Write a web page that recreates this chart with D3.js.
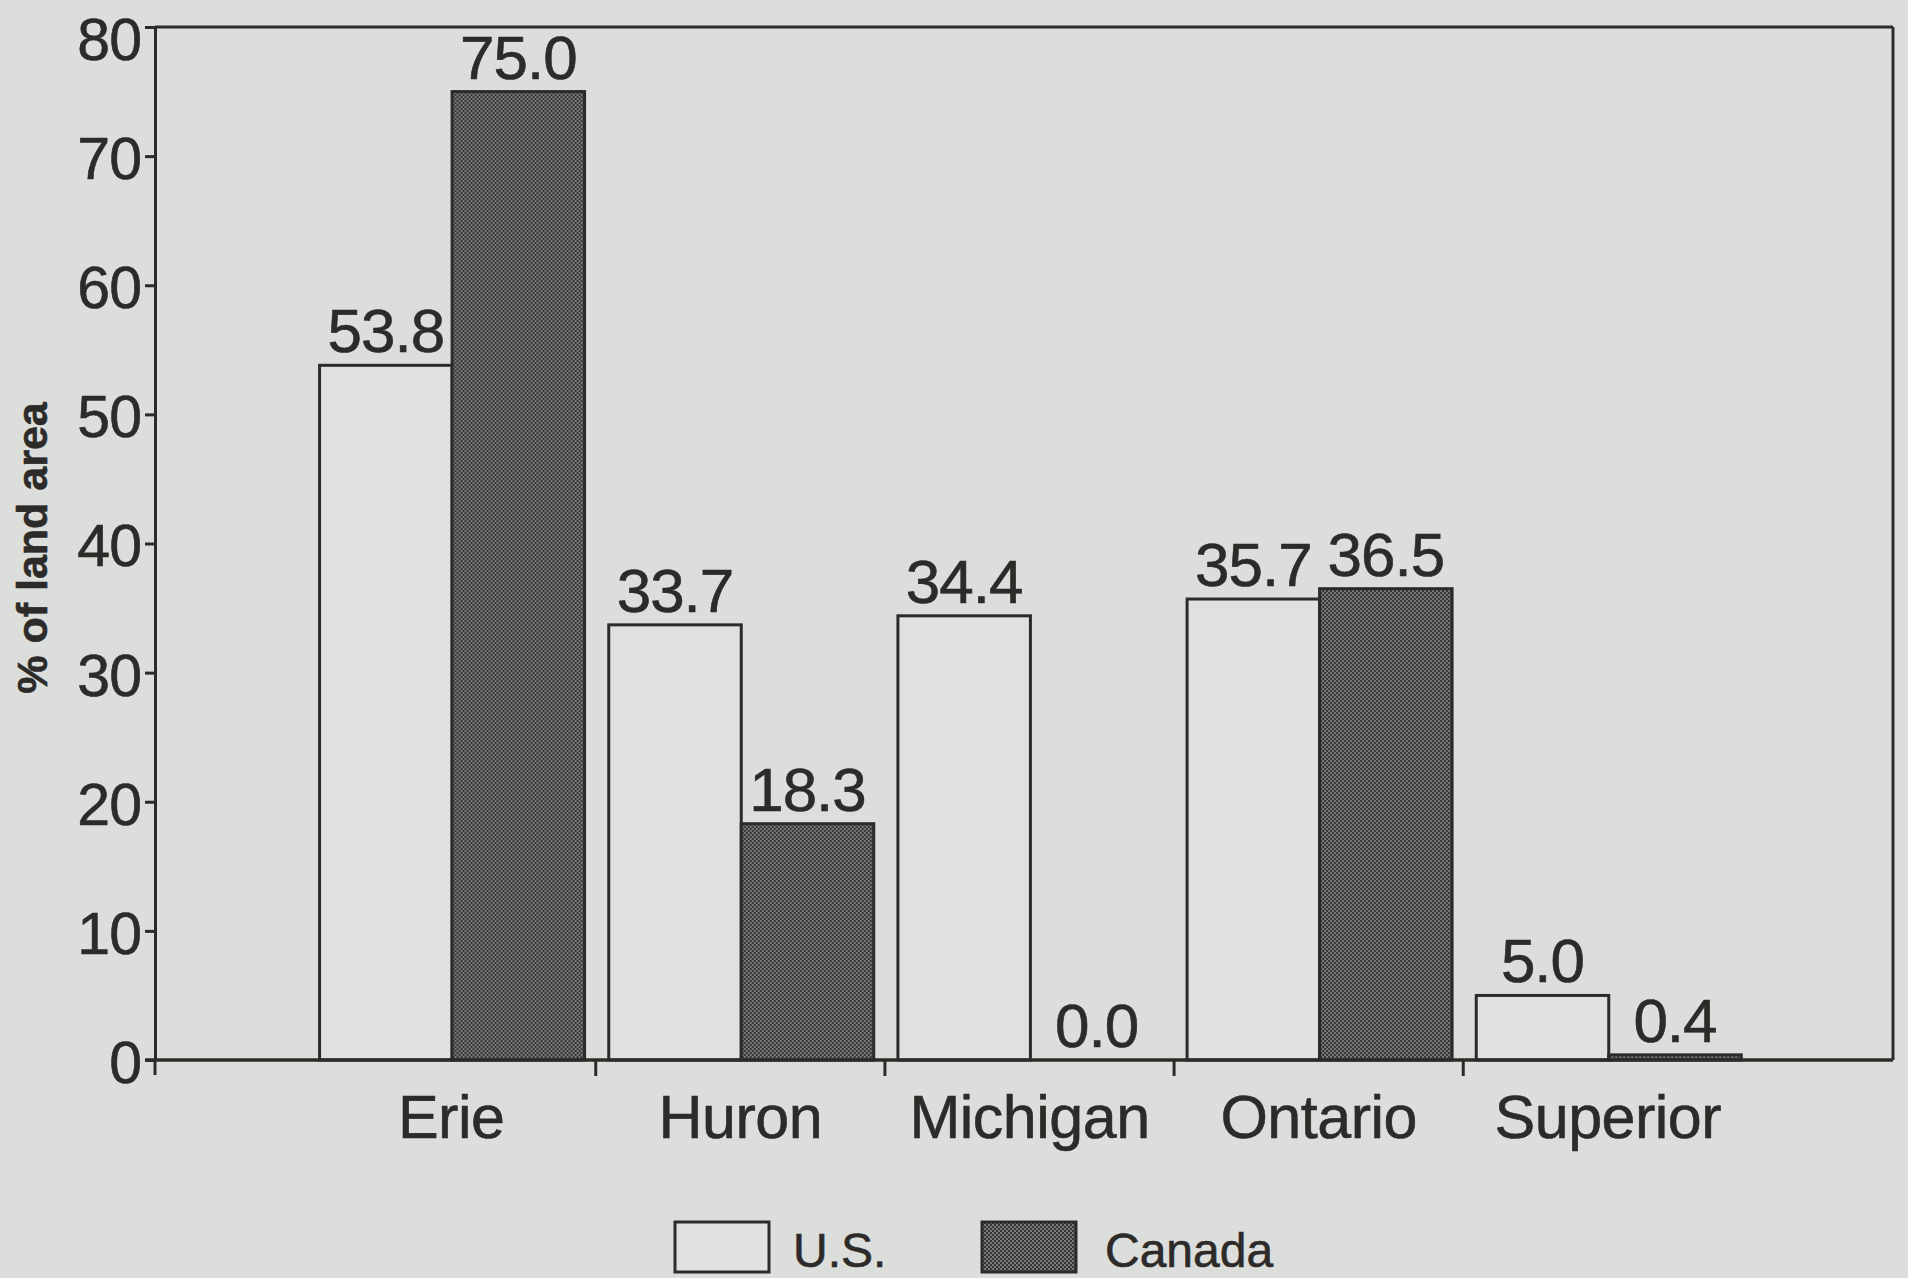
<!DOCTYPE html>
<html lang="en">
<head>
<meta charset="UTF-8">
<title>Land area by lake</title>
<script src="https://cdn.jsdelivr.net/npm/d3@7"></script>
<style>
    html, body { margin: 0; padding: 0; background: #dcdedc; }
    #chart { width: 1908px; height: 1278px; }
    text { font-family: "Liberation Sans", Arial, sans-serif; fill: #2d2b29; stroke: #2d2b29; stroke-width: 0.6; }
</style>
</head>
<body>
<div id="chart"></div>
<script>
    // data
    const lakes = ["Erie", "Huron", "Michigan", "Ontario", "Superior"];
    const usValues = [53.8, 33.7, 34.4, 35.7, 5.0];
    const canadaValues = [75.0, 18.3, 0.0, 36.5, 0.4];
    const seriesNames = ["U.S.", "Canada"];
    const yTicks = [0, 10, 20, 30, 40, 50, 60, 70, 80];

    const W = 1908, H = 1278;
    const plotLeft = 155, plotRight = 1893, plotTop = 27, plotBottom = 1060;
    const ink = "#2d2b29";

    const svg = d3.select("#chart").append("svg")
        .attr("width", W).attr("height", H)
        .attr("viewBox", [0, 0, W, H]);

    // dotted screen used for the Canada bars
    const defs = svg.append("defs");
    const pat = defs.append("pattern")
        .attr("id", "screen")
        .attr("patternUnits", "userSpaceOnUse")
        .attr("width", 4).attr("height", 4);
    pat.append("rect").attr("width", 4).attr("height", 4).attr("fill", "#363636");
    pat.append("circle").attr("cx", 1).attr("cy", 1).attr("r", 0.9).attr("fill", "#9a9a9a");
    pat.append("circle").attr("cx", 3).attr("cy", 3).attr("r", 0.9).attr("fill", "#9a9a9a");

    const y = d3.scaleLinear().domain([0, 80]).range([plotBottom, plotTop]);
    const x = d3.scaleBand().domain(lakes).range([162, 1897]).paddingInner(0).paddingOuter(0.5);
    const x1 = d3.scaleBand().domain(seriesNames).range([13, 278]).padding(0);

    const rows = lakes.map((lake, i) => ({
        lake: lake,
        values: [
            {key: "U.S.", value: usValues[i]},
            {key: "Canada", value: canadaValues[i]}
        ]
    }));

    const fillFor = k => k === "U.S." ? "#dfe1df" : "url(#screen)";

    // frame: top and right
    svg.append("line").attr("x1", plotLeft).attr("x2", plotRight).attr("y1", plotTop).attr("y2", plotTop)
        .attr("stroke", ink).attr("stroke-width", 3);
    svg.append("line").attr("x1", plotRight).attr("x2", plotRight).attr("y1", plotTop).attr("y2", plotBottom)
        .attr("stroke", ink).attr("stroke-width", 3);

    // bars
    const groups = svg.selectAll("g.lake")
        .data(rows)
        .join("g")
        .classed("lake", true)
        .attr("transform", d => `translate(${x(d.lake)},0)`);

    groups.selectAll("rect")
        .data(d => d.values)
        .join("rect")
        .attr("x", d => x1(d.key))
        .attr("y", d => y(d.value))
        .attr("width", x1.bandwidth())
        .attr("height", d => y(0) - y(d.value))
        .attr("fill", d => fillFor(d.key))
        .attr("stroke", ink)
        .attr("stroke-width", 3);

    groups.selectAll("text.val")
        .data(d => d.values)
        .join("text")
        .classed("val", true)
        .attr("x", d => x1(d.key) + x1.bandwidth() / 2)
        .attr("y", d => y(d.value) - 13)
        .attr("text-anchor", "middle")
        .attr("font-size", 62)
        .attr("letter-spacing", -1)
        .text(d => d.value.toFixed(1));

    // y axis
    const yAxis = svg.append("g")
        .attr("transform", `translate(${plotLeft},0)`)
        .call(d3.axisLeft(y).tickValues(yTicks).tickSize(10).tickSizeOuter(0).tickPadding(4));
    yAxis.select(".domain").attr("stroke", ink).attr("stroke-width", 3);
    yAxis.selectAll(".tick line").attr("stroke", ink).attr("stroke-width", 3);
    yAxis.selectAll(".tick text")
        .attr("font-size", 59)
        .attr("letter-spacing", -1)
        .attr("dy", d => d === 80 ? "0.55em" : "0.38em")  // top label sits a little low in the original
        .attr("fill", ink)
        .attr("font-family", "Liberation Sans, Arial, sans-serif");
    svg.append("line").attr("x1", plotLeft).attr("x2", plotLeft).attr("y1", plotBottom).attr("y2", plotBottom + 15)
        .attr("stroke", ink).attr("stroke-width", 3);

    // x axis: baseline, boundary ticks, labels
    svg.append("line").attr("x1", plotLeft - 10).attr("x2", plotRight).attr("y1", plotBottom).attr("y2", plotBottom)
        .attr("stroke", ink).attr("stroke-width", 3.5);
    svg.selectAll("line.sep")
        .data(lakes.slice(1))
        .join("line")
        .classed("sep", true)
        .attr("x1", d => x(d)).attr("x2", d => x(d))
        .attr("y1", plotBottom).attr("y2", plotBottom + 16)
        .attr("stroke", ink).attr("stroke-width", 3);
    svg.selectAll("text.cat")
        .data(lakes)
        .join("text")
        .classed("cat", true)
        .attr("x", d => x(d) + x.bandwidth() / 2)
        .attr("y", 1138)
        .attr("text-anchor", "middle")
        .attr("font-size", 61)
        .attr("letter-spacing", -0.5)
        .text(d => d);

    // y title
    svg.append("text")
        .attr("transform", "translate(47,548) rotate(-90)")
        .attr("text-anchor", "middle")
        .attr("font-size", 43)
        .attr("font-weight", "bold")
        .text("% of land area");

    // legend
    const legendX = [675, 982];
    const legend = svg.selectAll("g.legend")
        .data(seriesNames)
        .join("g")
        .classed("legend", true)
        .attr("transform", (d, i) => `translate(${legendX[i]},1222)`);
    legend.append("rect")
        .attr("width", 94).attr("height", 50)
        .attr("fill", d => fillFor(d))
        .attr("stroke", ink).attr("stroke-width", 3);
    legend.append("text")
        .attr("x", (d, i) => i === 0 ? 118 : 123)
        .attr("y", 45)
        .attr("font-size", 48)
        .text(d => d);
</script>
</body>
</html>
